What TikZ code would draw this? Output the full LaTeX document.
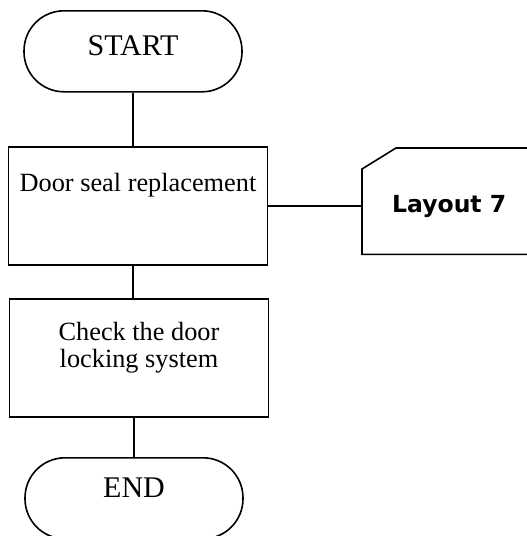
\documentclass[tikz,border=0pt]{standalone}
\usepackage{fontspec}
\setmainfont{Liberation Serif}
\newfontfamily\cardfont{DejaVu Sans}
\usetikzlibrary{positioning}

\tikzset{
  terminal/.style={draw, line width=1.6pt, rounded corners=40pt, minimum width=218pt, inner sep=0pt, font=\fontsize{30}{32}\selectfont},
  process/.style={draw, line width=1.6pt, minimum width=259pt, inner sep=0pt, align=center, font=\fontsize{26.3}{27}\selectfont},
  card/.style={minimum width=174pt, inner sep=0pt, font=\cardfont\bfseries\fontsize{23.5}{26}\selectfont},
  link/.style={line width=1.6pt},
}

\begin{document}
\begin{tikzpicture}[x=1pt, y=-1pt]
	\useasboundingbox (0,0) rectangle (527,536);
	% flow nodes
	\node[terminal, text height=45pt, text depth=36pt, anchor=north] (start) at (133,10) {START};
	\node[process, text height=45pt, text depth=73pt, anchor=north] (dsr) at (138,146) {Door seal replacement};
	\node[process, text height=69pt, text depth=49pt, anchor=north] (chk) at (139,298) {Check the door\\locking system};
	\node[terminal, text height=40pt, text depth=41pt, anchor=north] (stop) at (134,457) {END};
	% layout card
	\node[card, text height=64pt, text depth=42pt, anchor=north west] (lay) at (362,148) {Layout 7};
	\draw[link] ([yshift=-21pt]lay.north west) -- ([xshift=34pt]lay.north west) -- (lay.north east) -- (lay.south east) -- (lay.south west) -- cycle;
	% connectors
	\draw[link] (start) -- (start |- dsr.north);
	\draw[link] (dsr.south -| start) -- (chk.north -| start);
	\draw[link] (chk.south -| stop) -- (stop);
	\draw[link] (dsr) -- (dsr -| lay.west);
\end{tikzpicture}
\end{document}
